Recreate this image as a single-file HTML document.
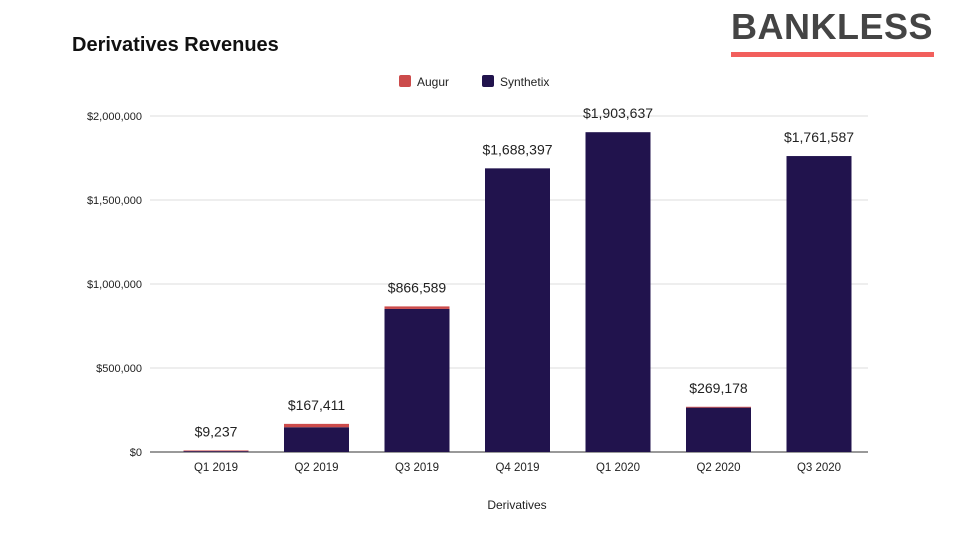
<!DOCTYPE html>
<html><head><meta charset="utf-8"><style>
body{margin:0;background:#fff;font-family:"Liberation Sans",sans-serif;}
#wrap{position:relative;width:960px;height:540px;overflow:hidden;}
</style></head><body>
<div id="wrap">
<svg id="chart" width="960" height="540" xmlns="http://www.w3.org/2000/svg">
<text x="72" y="51" font-size="20" font-weight="bold" fill="#111">Derivatives Revenues</text>
<text x="832" y="39" font-size="36" font-weight="bold" fill="#444" text-anchor="middle" letter-spacing="0.5">BANKLESS</text>
<rect x="731" y="52" width="203" height="5" fill="#f25f5c"/>
<g>
<rect x="399" y="75" width="12" height="12" rx="2" fill="#cc4b4b"/>
<text x="417" y="86" font-size="12" fill="#222">Augur</text>
<rect x="482" y="75" width="12" height="12" rx="2" fill="#21134d"/>
<text x="500" y="86" font-size="12" fill="#222">Synthetix</text>
</g>
<g id="grid"></g><g id="bars"></g>
<text x="517" y="509" font-size="12" fill="#222" text-anchor="middle">Derivatives</text>
</svg>
</div>
<script>
const categories=["Q1 2019","Q2 2019","Q3 2019","Q4 2019","Q1 2020","Q2 2020","Q3 2020"];
const totals=[9237,167411,866589,1688397,1903637,269178,1761587];
const augur=[4000,20000,15000,0,0,5000,0];
const totalLabels=["$9,237","$167,411","$866,589","$1,688,397","$1,903,637","$269,178","$1,761,587"];
const yTicks=[0,500000,1000000,1500000,2000000];
const yTickLabels=["$0","$500,000","$1,000,000","$1,500,000","$2,000,000"];
const NS="http://www.w3.org/2000/svg";
const gx0=150,gx1=868,yBase=452,yTop=116,yMax=2000000;
const x0=165.75,x1=869.25;
const y=v=>yBase-(v/yMax)*(yBase-yTop);
const step=(x1-x0)/categories.length;
const xc=i=>x0+step*(i+0.5);
const bw=65;
function mk(t,a,p){const e=document.createElementNS(NS,t);for(const k in a)e.setAttribute(k,a[k]);p.appendChild(e);return e;}
const grid=document.getElementById('grid'),bars=document.getElementById('bars');
yTicks.forEach((v,i)=>{
 const l=mk('line',{x1:gx0,x2:gx1,y1:y(v),y2:y(v),stroke:v===0?'#333':'#ddd','stroke-width':1},grid);
 
 
 const t=mk('text',{x:gx0-8,y:y(v)+4,'font-size':11,fill:'#222','text-anchor':'end'},grid);
 t.textContent=yTickLabels[i];
 
 
});
categories.forEach((c,i)=>{
 const syn=totals[i]-augur[i];
 const r1=mk('rect',{x:xc(i)-bw/2,y:y(syn),width:bw,height:yBase-y(syn),fill:'#21134d'},bars);
 
 
 const r2=mk('rect',{x:xc(i)-bw/2,y:y(totals[i]),width:bw,height:y(syn)-y(totals[i]),fill:'#cc4b4b'},bars);
 
 
 const t=mk('text',{x:xc(i),y:y(totals[i])-14,'font-size':14,fill:'#222','text-anchor':'middle'},bars);
 t.textContent=totalLabels[i];
 
 
 const xl=mk('text',{x:xc(i),y:yBase+19,'font-size':11.5,fill:'#222','text-anchor':'middle'},bars);
 xl.textContent=c;
 
 
});
</script>
</body></html>
